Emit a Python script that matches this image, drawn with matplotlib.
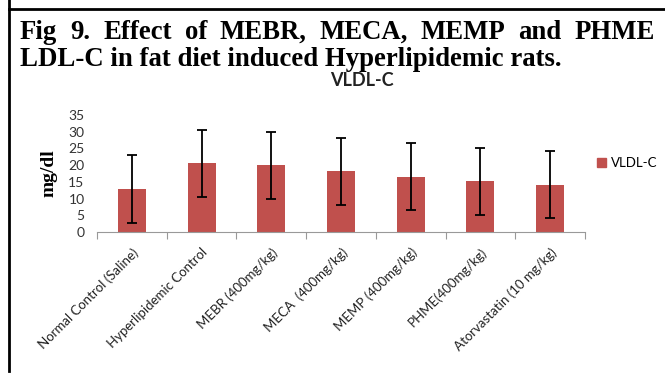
import matplotlib.pyplot as plt
from matplotlib.lines import Line2D
from matplotlib.patches import Patch

groups = ['Normal Control (Saline)', 'Hyperlipidemic Control', 'MEBR (400mg/kg)',
          'MECA  (400mg/kg)', 'MEMP (400mg/kg)', 'PHME(400mg/kg)', 'Atorvastatin (10 mg/kg)']
vldl = [12.8, 20.5, 20.0, 18.1, 16.5, 15.2, 14.1]
vldl_err = [10.1, 10.0, 10.0, 10.0, 10.0, 10.0, 10.0]
yticks = [0, 5, 10, 15, 20, 25, 30, 35]

bar_color = '#C0504D'
W, H = 665, 375

fig = plt.figure(figsize=(W / 100, H / 100), dpi=100)

# page border bits from the paper scan
fig.add_artist(Line2D([9 / W, 9 / W], [0.012, 1], color='black', lw=2))
fig.add_artist(Line2D([9 / W, 1], [1 - 9 / H, 1 - 9 / H], color='black', lw=2))

# caption, first line justified across the width
serif = dict(family='Liberation Serif', weight='bold', size=19.3)
words = 'Fig 9. Effect of MEBR, MECA, MEMP and PHME'.split(' ')
x0, x1 = 20, 655
y1 = 1 - 39 / H
texts = [fig.text(0, y1, w, **serif) for w in words]
fig.canvas.draw()
r = fig.canvas.get_renderer()
widths = [t.get_window_extent(r).width for t in texts]
gap = (x1 - x0 - sum(widths)) / (len(words) - 1)
x = x0
for t, w in zip(texts, widths):
    t.set_x(x / W)
    x += w + gap
fig.text(x0 / W, 1 - 66 / H, 'LDL-C in fat diet induced Hyperlipidemic rats.', **serif)

ax = fig.add_axes([97 / W, (H - 232) / H, 488 / W, 117 / H])
pos = list(range(len(groups)))
ax.bar(pos, vldl, width=0.4, color=bar_color, yerr=vldl_err,
       error_kw=dict(ecolor='black', elinewidth=1.3, capsize=3.5, capthick=1.3),
       label='VLDL-C', zorder=2)

ax.set_xlim(-0.5, len(groups) - 0.5)
ax.set_ylim(0, 35)
ax.set_yticks(yticks)
ax.set_yticklabels([str(v) for v in yticks], family='Lato', size=10, color='#333333')
ax.tick_params(axis='y', length=0, pad=9)

ax.set_xticks(pos)
ax.set_xticklabels(groups, rotation=45, ha='right', rotation_mode='anchor',
                   family='Lato', size=9.5, color='#222222')
ax.tick_params(axis='x', length=0, pad=10)
ax.set_xticks([p - 0.5 for p in pos] + [len(groups) - 0.5], minor=True)
ax.tick_params(axis='x', which='minor', length=5, color='#999999', width=0.8)

for s in ['top', 'right', 'left']:
    ax.spines[s].set_visible(False)
ax.spines['bottom'].set_color('#999999')
ax.spines['bottom'].set_linewidth(0.8)

ax.set_ylabel('mg/dl', family='Liberation Serif', weight='bold', size=14, labelpad=8)

fig.text(362 / W, 1 - 81 / H, 'VLDL-C', family='Lato', weight='bold', size=13,
         ha='center', va='center', color='#222222')

fig.legend(handles=[Patch(color=bar_color, label='VLDL-C')], loc='center left',
           bbox_to_anchor=(597 / W, 1 - 163 / H), frameon=False,
           borderpad=0, borderaxespad=0,
           prop=dict(family='Lato', size=9.5), handlelength=0.7, handleheight=0.7,
           handletextpad=0.35)

fig.savefig('out.png', dpi=100)
